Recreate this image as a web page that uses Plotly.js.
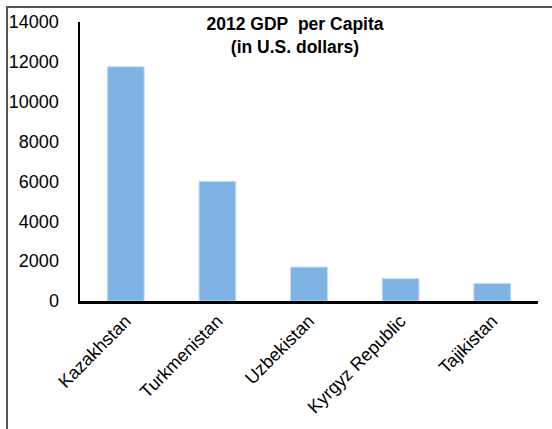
<!DOCTYPE html>
<html>
<head>
<meta charset="utf-8">
<script src="https://cdn.plot.ly/plotly-3.0.1.min.js"></script>
<style>
html,body{margin:0;padding:0;background:#fff;overflow:hidden;}
#wrap{position:relative;width:552px;height:429px;}
#chart{position:absolute;left:0;top:0;width:552px;height:429px;}
#frame{position:absolute;left:6px;top:6px;width:700px;height:700px;border-left:2px solid #555;border-top:2px solid #555;pointer-events:none;}
</style>
</head>
<body>
<div id="wrap"><div id="chart"></div><div id="frame"></div></div>
<script>
const countries = ["Kazakhstan", "Turkmenistan", "Uzbekistan", "Kyrgyz Republic", "Tajikistan"];
const gdpPerCapita = [11750, 6000, 1700, 1120, 880];
const yTicks = [0, 2000, 4000, 6000, 8000, 10000, 12000, 14000];

const trace = {
  type: 'bar',
  x: countries,
  y: gdpPerCapita,
  width: 0.4,
  marker: {color: '#7EB3E4', line: {color: '#BBD8F3', width: 1}},
  hoverinfo: 'x+y'
};

const layout = {
  width: 552,
  height: 429,
  margin: {l: 80, r: 14, t: 22, b: 128},
  paper_bgcolor: '#fff',
  plot_bgcolor: '#fff',
  font: {family: 'Liberation Sans, Arial, sans-serif', size: 18, color: '#000'},
  showlegend: false,
  bargap: 0.6,
  title: {
    text: '<b>2012 GDP\u00A0 per Capita</b><br><b>(in U.S. dollars)</b>',
    font: {family: 'Liberation Sans, Arial, sans-serif', size: 17.5, color: '#000'},
    x: 295 / 552,
    xref: 'container',
    xanchor: 'center',
    y: 1 - 30 / 429,
    yref: 'container',
    yanchor: 'top'
  },
  xaxis: {
    type: 'category',
    showline: true,
    linecolor: '#000',
    linewidth: 2.5,
    showgrid: false,
    zeroline: false,
    ticks: '',
    tickangle: -45,
    tickfont: {size: 18},
    automargin: false
  },
  yaxis: {
    range: [0, 14000],
    tickvals: yTicks,
    ticktext: yTicks.map(String),
    showline: true,
    linecolor: '#000',
    linewidth: 2.5,
    showgrid: false,
    zeroline: false,
    ticks: '',
    ticklabelstandoff: 15,
    tickfont: {size: 18},
    automargin: false
  }
};

Plotly.newPlot('chart', [trace], layout, {displayModeBar: false, staticPlot: true});
</script>
</body>
</html>
